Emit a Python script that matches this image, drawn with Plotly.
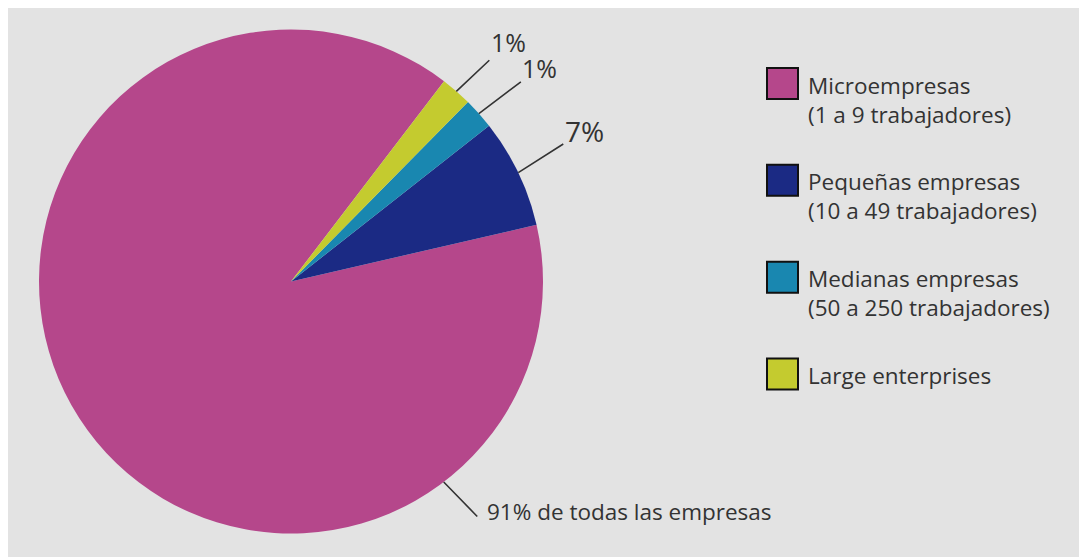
import math
import plotly.graph_objects as go

# ---------------- data ----------------
categories = ["Microempresas", "Pequeñas empresas", "Medianas empresas", "Large enterprises"]
subtitles = ["(1 a 9 trabajadores)", "(10 a 49 trabajadores)", "(50 a 250 trabajadores)", ""]
shares = [89, 7, 2, 2]          # slice sizes as drawn
share_labels = ["91% de todas las empresas", "7%", "1%", "1%"]   # printed labels
colors = ["#b5478b", "#1b2a84", "#1987b0", "#c4cb2f"]

# ---------------- layout constants ----------------
W, H = 1100, 570
BG = "#e3e3e3"
TXT = "#333333"
FONT = "Open Sans"

# pie centre / radius in figure pixels
PIE_CX, PIE_CY, PIE_R = 283, 273.5, 252
pie_x = [(PIE_CX - PIE_R) / W, (PIE_CX + PIE_R) / W]
pie_y = [1 - (PIE_CY + PIE_R) / H, 1 - (PIE_CY - PIE_R) / H]
ROT = 77

fig = go.Figure()

fig.add_trace(go.Pie(
    labels=categories, values=shares, sort=False, direction="counterclockwise",
    rotation=ROT, textinfo="none", hoverinfo="label+percent",
    marker=dict(colors=colors, line=dict(width=0)),
    domain=dict(x=pie_x, y=pie_y), showlegend=False,
))

# legend drawn as a scatter of squares on a hidden axis
rows = list(range(len(categories)))
fig.add_trace(go.Scatter(
    x=[0] * len(categories), y=rows, mode="markers",
    marker=dict(symbol="square", size=31, color=colors, line=dict(color="#111111", width=2)),
    hoverinfo="skip", showlegend=False, xaxis="x", yaxis="y",
))

annotations = []
for i, (c, s) in enumerate(zip(categories, subtitles)):
    txt = c + ("<br>" + s if s else "")
    annotations.append(dict(
        x=0, y=i, xref="x", yref="y", text=txt, showarrow=False,
        xanchor="left", yanchor="top", align="left", xshift=23, yshift=16,
        font=dict(family=FONT, size=22.5, color=TXT),
    ))

total = sum(shares)


def on_arc(theta_deg):
    t = math.radians(theta_deg)
    px = PIE_CX + PIE_R * math.sin(t)
    py = PIE_CY - PIE_R * math.cos(t)
    return px / W, 1 - py / H


# mid angles (clockwise from 12 o'clock) following plotly's counterclockwise layout
mids = []
start = ROT
for i, v in enumerate(shares):
    span = v / total * 360
    if i == 0:
        mids.append(ROT + span / 2)
    else:
        mids.append(start - span / 2)
        start -= span

label_offsets = {1: (66, -42), 2: (61, -46), 3: (52, -49)}
label_sizes = {1: 28, 2: 25, 3: 25}
for i in (1, 2, 3):
    hx, hy = on_arc(mids[i])
    ax, ay = label_offsets[i]
    annotations.append(dict(
        x=hx, y=hy, xref="paper", yref="paper", text=share_labels[i],
        showarrow=True, arrowhead=0, arrowwidth=1.6, arrowcolor=TXT,
        ax=ax, ay=ay, font=dict(family=FONT, size=label_sizes[i], color=TXT),
    ))

# big slice label: leader line + text
MICRO_ANGLE = 142.7
hx, hy = on_arc(MICRO_ANGLE)
annotations.append(dict(
    x=hx, y=hy, xref="paper", yref="paper", text="",
    showarrow=True, arrowhead=0, arrowwidth=1.6, arrowcolor=TXT, ax=35, ay=36,
))
annotations.append(dict(
    x=hx, y=hy, xref="paper", yref="paper", text=share_labels[0], showarrow=False,
    xanchor="left", yanchor="middle", xshift=41, yshift=-30,
    font=dict(family=FONT, size=22.5, color=TXT),
))

# axis range so squares land at the right pixel positions
SQ_X, SQ_Y0 = 774.5, 75.5
x_dom0 = (SQ_X - (W - SQ_X)) / W
PX_PER_ROW = 96.83
top_pad = SQ_Y0 / PX_PER_ROW
bot_pad = (H - SQ_Y0) / PX_PER_ROW

fig.update_layout(
    width=W, height=H,
    margin=dict(l=0, t=0, r=0, b=0, pad=0),
    paper_bgcolor=BG, plot_bgcolor="rgba(0,0,0,0)",
    xaxis=dict(domain=[x_dom0, 1], range=[-1, 1], visible=False, fixedrange=True),
    yaxis=dict(domain=[0, 1], range=[bot_pad, -top_pad], visible=False, fixedrange=True),
    annotations=annotations,
    showlegend=False,
    font=dict(family=FONT, color=TXT),
)

fig.write_html("out.html")
